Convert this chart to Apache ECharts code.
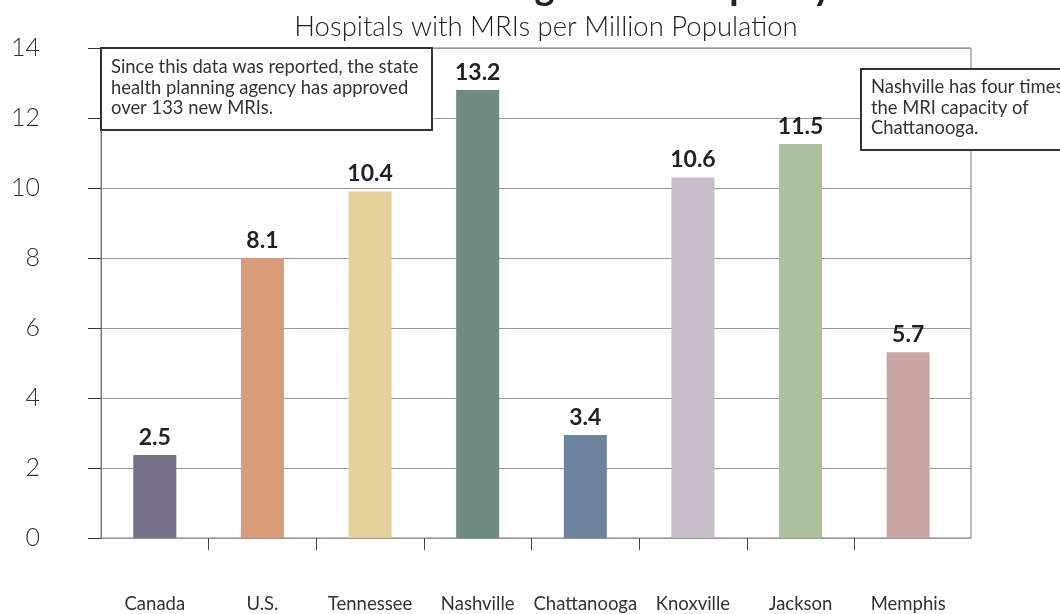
<!DOCTYPE html>
<html>
<head>
<meta charset="utf-8">
<script src="https://cdn.jsdelivr.net/npm/echarts@6/dist/echarts.min.js"></script>
<style>
  html, body { margin: 0; padding: 0; background: #fff; }
  #chart { width: 1060px; height: 614px; }
</style>
</head>
<body>
<div id="chart"></div>
<script>
  // 数据
  var categories = ['Canada', 'U.S.', 'Tennessee', 'Nashville', 'Chattanooga', 'Knoxville', 'Jackson', 'Memphis'];
  // bar heights as drawn in the picture
  var barHeights = [2.37, 8.0, 9.9, 12.8, 2.94, 10.3, 11.26, 5.31];
  // numbers printed above the bars
  var valueLabels = ['2.5', '8.1', '10.4', '13.2', '3.4', '10.6', '11.5', '5.7'];
  var barColors = ['#757088', '#d89c78', '#e5d19b', '#6e8b80', '#6e849e', '#c8bccb', '#abc19e', '#c9a6a3'];
  var yMin = 0, yMax = 14, yStep = 2;

  var titleText = 'Nashville Leading in MRI Capacity';
  var subtitleText = 'Hospitals with MRIs per Million Population';
  var note1 = 'Since this data was reported, the state\nhealth planning agency has approved\nover 133 new MRIs.';
  var note2 = 'Nashville has four times\nthe MRI capacity of\nChattanooga.';

  var font = 'Lato, "Noto Sans", sans-serif';
  var chart = echarts.init(document.getElementById('chart'));

  var barData = barHeights.map(function (v, i) {
    return { value: v, itemStyle: { color: barColors[i] } };
  });

  var option = {
    animation: false,
    textStyle: { fontFamily: font },
    grid: [
      // frame + value axis
      { left: 101, top: 48, width: 870, height: 490, show: true, borderColor: '#777', borderWidth: 1, backgroundColor: 'transparent' },
      // bars
      { left: 101, top: 48, width: 861, height: 490 },
      // category separator ticks under the axis
      { left: 101, top: 538, width: 861, height: 12 }
    ],
    xAxis: [
      { gridIndex: 0, type: 'category', data: categories, show: false },
      {
        gridIndex: 1, type: 'category', data: categories,
        axisLine: { show: false }, axisTick: { show: false },
        axisLabel: { margin: 57, fontSize: 18.5, color: '#333', fontFamily: font, interval: 0 }
      },
      {
        gridIndex: 2, type: 'category', data: categories,
        axisLine: { show: false }, axisTick: { show: false }, axisLabel: { show: false },
        splitLine: { show: true, interval: 0, showMinLine: false, showMaxLine: false, lineStyle: { color: '#444', width: 1 } }
      }
    ],
    yAxis: [
      {
        gridIndex: 0, type: 'value', min: yMin, max: yMax, interval: yStep,
        axisLine: { show: true, lineStyle: { color: '#777' } },
        axisTick: { show: true, length: 13, lineStyle: { color: '#333' } },
        axisLabel: { margin: 61, fontSize: 25, color: '#333', fontWeight: 300, fontFamily: font },
        splitLine: { lineStyle: { color: '#999' } }
      },
      { gridIndex: 1, type: 'value', min: yMin, max: yMax, show: false },
      { gridIndex: 2, type: 'value', show: false }
    ],
    series: [
      {
        type: 'bar',
        xAxisIndex: 1,
        yAxisIndex: 1,
        barWidth: 43,
        data: barData,
        label: {
          show: true,
          position: 'top',
          distance: 6,
          fontSize: 23,
          fontWeight: 'bold',
          color: '#222',
          fontFamily: font,
          formatter: function (p) { return valueLabels[p.dataIndex]; }
        }
      }
    ],
    graphic: [
      {
        type: 'text', z: 100, x: 546, y: 7,
        style: { text: titleText, font: 'bold 38px ' + font, fill: '#222', align: 'center', verticalAlign: 'bottom' }
      },
      {
        type: 'text', z: 100, x: 546, y: 27,
        style: { text: subtitleText, font: '300 27.5px ' + font, fill: '#222', align: 'center', verticalAlign: 'middle' }
      },
      {
        type: 'group', z: 100,
        children: [
          { type: 'rect', z: 100, shape: { x: 101, y: 48, width: 331, height: 82 }, style: { fill: '#fff', stroke: '#333', lineWidth: 2 } },
          { type: 'text', z: 101, x: 111, y: 57, style: { text: note1, font: '18.4px ' + font, fill: '#333', lineHeight: 20.5, verticalAlign: 'top' } }
        ]
      },
      {
        type: 'group', z: 100,
        children: [
          { type: 'rect', z: 100, shape: { x: 861, y: 69, width: 230, height: 81 }, style: { fill: '#fff', stroke: '#333', lineWidth: 2 } },
          { type: 'text', z: 101, x: 871, y: 77, style: { text: note2, font: '18.4px ' + font, fill: '#333', lineHeight: 20.5, verticalAlign: 'top' } }
        ]
      }
    ]
  };

  chart.setOption(option);
</script>
</body>
</html>
